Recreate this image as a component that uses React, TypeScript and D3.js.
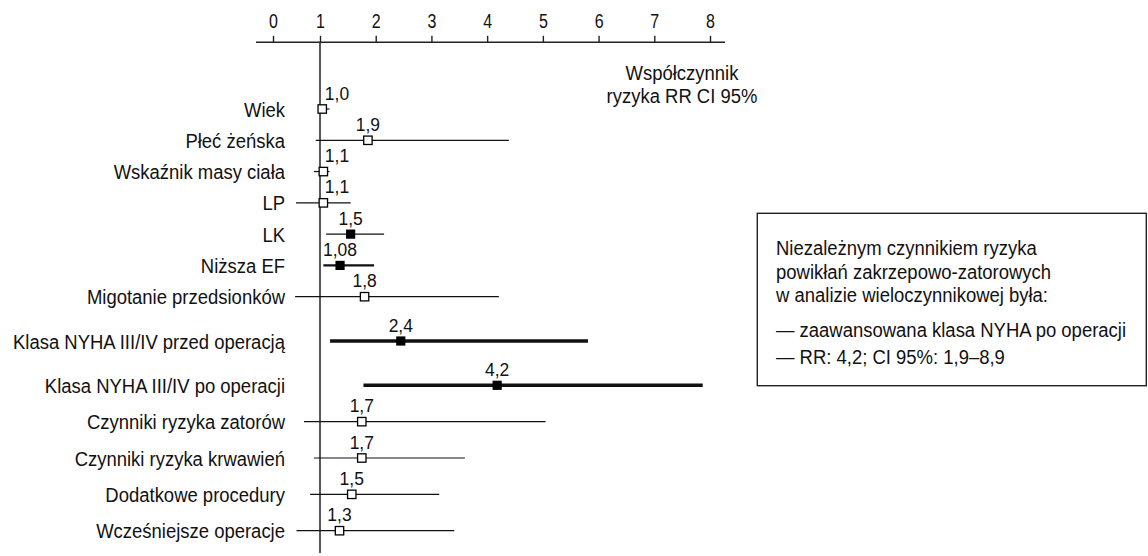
import React, { useRef, useEffect } from 'react';
import * as d3 from 'd3';

// Rows of the forest plot, top to bottom
const factors = [
  'Wiek',
  'Płeć żeńska',
  'Wskaźnik masy ciała',
  'LP',
  'LK',
  'Niższa EF',
  'Migotanie przedsionków',
  'Klasa NYHA III/IV przed operacją',
  'Klasa NYHA III/IV po operacji',
  'Czynniki ryzyka zatorów',
  'Czynniki ryzyka krwawień',
  'Dodatkowe procedury',
  'Wcześniejsze operacje',
];

// Printed RR values and the point where the marker sits on the axis
const rrLabels = ['1,0', '1,9', '1,1', '1,1', '1,5', '1,08', '1,8', '2,4', '4,2', '1,7', '1,7', '1,5', '1,3'];
const rrPlotted = [1.04, 1.86, 1.06, 1.06, 1.55, 1.36, 1.8, 2.45, 4.18, 1.75, 1.75, 1.57, 1.35];

// 95% CI as drawn
const ciLow = [0.96, 0.91, 0.87, 0.49, 1.11, 1.06, 0.47, 1.18, 1.78, 0.66, 0.87, 0.79, 0.5];
const ciHigh = [1.17, 4.39, 1.17, 1.55, 2.15, 1.97, 4.21, 5.81, 7.87, 5.05, 3.6, 3.14, 3.41];

// ns = not significant (open marker), sig1..sig3 = significant, rising emphasis
const significance = ['ns', 'ns', 'ns', 'ns', 'sig1', 'sig2', 'ns', 'sig3', 'sig3', 'ns', 'ns', 'ns', 'ns'];

const tickValues = [0, 1, 2, 3, 4, 5, 6, 7, 8];

const axisTitle = ['Współczynnik', 'ryzyka RR CI 95%'];

const noteLines = [
  'Niezależnym czynnikiem ryzyka',
  'powikłań zakrzepowo-zatorowych',
  'w analizie wieloczynnikowej była:',
];
const noteItems = ['— zaawansowana klasa NYHA po operacji', '— RR: 4,2; CI 95%: 1,9–8,9'];

// No narrow font installed, so Liberation Sans gets squeezed horizontally
const FONT = '"Liberation Sans", Arial, sans-serif';
const SQUEEZE = 0.88;

const lineWidth: Record<string, number> = { ns: 1.2, sig1: 1.2, sig2: 2.2, sig3: 3.4 };

const App: React.FC = () => {
  const svgRef = useRef<SVGSVGElement>(null);

  useEffect(() => {
    if (!svgRef.current) return;
    const svg = d3.select(svgRef.current);
    svg.selectAll('*').remove();

    const width = 1148;
    const height = 556;
    const axisY = 42.3;

    // The printed axis is not uniform: 0..1 is shorter than the other steps
    const x = d3.scaleLinear().domain([0, 1, 8]).range([273, 320, 710]);
    // Rows are grouped: tight block on top, wider gaps around the NYHA rows
    const y = d3.scaleLinear().domain([0, 6, 8, 12]).range([109, 296.7, 385.3, 530.7]);

    const squeezed = (px: number, py: number, sx = SQUEEZE) => `translate(${px},${py}) scale(${sx},1)`;

    svg.attr('width', width).attr('height', height).attr('font-family', FONT);

    svg.append('rect').attr('width', width).attr('height', height).attr('fill', '#fff');

    // Axis on top
    const axis = svg.append('g')
      .attr('transform', `translate(0,${axisY})`)
      .call(d3.axisTop(x).tickValues(tickValues).tickSize(6.5).tickSizeOuter(0).tickFormat(d3.format('d')));
    axis.select('.domain').remove();
    axis.selectAll('.tick line').attr('stroke', '#222').attr('stroke-width', 1.4);
    axis.selectAll('.tick text')
      .attr('y', null)
      .attr('dy', null)
      .attr('transform', squeezed(0, -14, 0.82))
      .attr('fill', '#111')
      .attr('font-size', 19.5)
      .attr('font-family', FONT);

    svg.append('line')
      .attr('x1', 256).attr('x2', 725)
      .attr('y1', axisY).attr('y2', axisY)
      .attr('stroke', '#222').attr('stroke-width', 1.5);

    // Reference line at RR = 1
    svg.append('line')
      .attr('x1', x(1)).attr('x2', x(1))
      .attr('y1', axisY).attr('y2', 553)
      .attr('stroke', '#222').attr('stroke-width', 1.5);

    // Axis title
    svg.append('g')
      .selectAll('text')
      .data(axisTitle)
      .enter()
      .append('text')
      .attr('transform', (_, i) => squeezed(682, 80 + i * 23))
      .attr('text-anchor', 'middle')
      .attr('font-size', 21)
      .attr('fill', '#111')
      .text(d => d);

    const rows = factors.map((name, i) => ({
      name,
      label: rrLabels[i],
      rr: rrPlotted[i],
      lo: ciLow[i],
      hi: ciHigh[i],
      sig: significance[i],
      i,
    }));

    // Row labels
    svg.append('g')
      .selectAll('text')
      .data(rows)
      .enter()
      .append('text')
      .attr('transform', d => squeezed(285, y(d.i)))
      .attr('dy', '0.36em')
      .attr('text-anchor', 'end')
      .attr('font-size', 21)
      .attr('fill', '#111')
      .text(d => d.name);

    // CI whiskers
    svg.append('g')
      .selectAll('line')
      .data(rows)
      .enter()
      .append('line')
      .attr('x1', d => x(d.lo))
      .attr('x2', d => x(d.hi))
      .attr('y1', d => y(d.i))
      .attr('y2', d => y(d.i))
      .attr('stroke', '#111')
      .attr('stroke-width', d => lineWidth[d.sig]);

    // Markers
    svg.append('g')
      .selectAll('rect')
      .data(rows)
      .enter()
      .append('rect')
      .attr('x', d => x(d.rr) - (d.sig === 'ns' ? 4.2 : 4.6))
      .attr('y', d => y(d.i) - (d.sig === 'ns' ? 4.2 : 4.6))
      .attr('width', d => (d.sig === 'ns' ? 8.4 : 9.2))
      .attr('height', d => (d.sig === 'ns' ? 8.4 : 9.2))
      .attr('fill', d => (d.sig === 'ns' ? '#fff' : '#000'))
      .attr('stroke', '#000')
      .attr('stroke-width', d => (d.sig === 'ns' ? 1.3 : 0));

    // Value labels above markers, kept clear of the RR = 1 line
    svg.append('g')
      .selectAll('text')
      .data(rows)
      .enter()
      .append('text')
      .attr('transform', d => squeezed(Math.max(x(d.rr), x(1) + 17), y(d.i) - 9.5, 0.92))
      .attr('text-anchor', 'middle')
      .attr('font-size', 19)
      .attr('fill', '#111')
      .text(d => d.label);

    // Note box
    const box = svg.append('g');
    box.append('rect')
      .attr('x', 757.3).attr('y', 213.3)
      .attr('width', 389).attr('height', 172.4)
      .attr('fill', 'none')
      .attr('stroke', '#222')
      .attr('stroke-width', 1.4);

    box.selectAll('text.note')
      .data(noteLines)
      .enter()
      .append('text')
      .attr('class', 'note')
      .attr('transform', (_, i) => squeezed(776, 255 + i * 23.5))
      .attr('font-size', 21)
      .attr('fill', '#111')
      .text(d => d);

    box.selectAll('text.item')
      .data(noteItems)
      .enter()
      .append('text')
      .attr('class', 'item')
      .attr('transform', (_, i) => squeezed(776, 337 + i * 27))
      .attr('font-size', 21)
      .attr('fill', '#111')
      .text(d => d);
  }, []);

  return (
    <div style={{ position: 'absolute', left: 0, top: 0 }}>
      <svg ref={svgRef} style={{ display: 'block' }}></svg>
    </div>
  );
};

export default App;
